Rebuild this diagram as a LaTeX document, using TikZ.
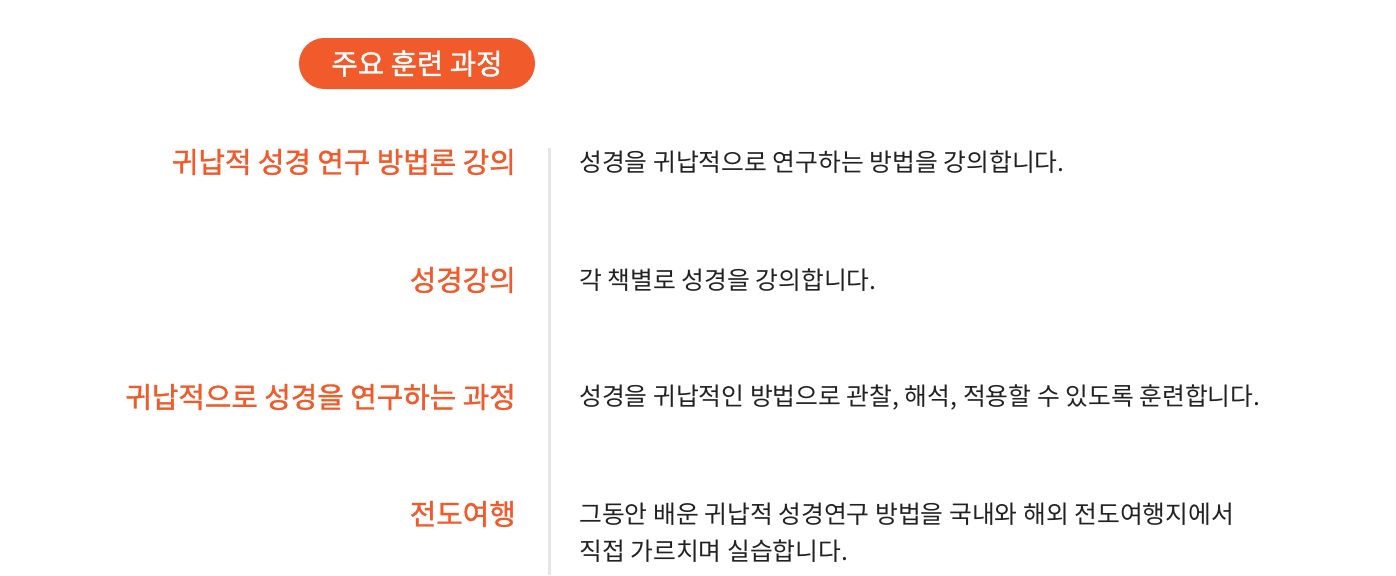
\documentclass[tikz,border=0pt]{standalone}
\usepackage{fontspec}
\setmainfont{Noto Sans CJK KR}
\newfontfamily\titlefont[FakeBold=1.2]{Noto Sans CJK KR}
\usepackage{xcolor}
\usetikzlibrary{positioning}
\definecolor{brand}{HTML}{F15A2B}
\definecolor{bodytext}{HTML}{222222}
\definecolor{rulegray}{HTML}{E6E6E6}

\begin{document}
\begin{tikzpicture}[x=0.75pt,y=-0.75pt,
  badge/.style={fill=brand, text=white, rounded corners=19pt, minimum width=177pt, minimum height=38.25pt, inner sep=0pt, font=\titlefont\fontsize{21.5}{24}\selectfont},
  title/.style={anchor=east, text=brand, inner sep=0pt, font=\titlefont\fontsize{21.6}{25}\selectfont},
  desc/.style={anchor=west, text=bodytext, inner sep=0pt, align=left, font=\fontsize{18.6}{27.75}\selectfont}]
\useasboundingbox (0,0) rectangle (1396,575);

% heading
\node[badge] (head) at (417,63.5) {주요 훈련 과정};

% divider
\coordinate (top) at (549,148);
\coordinate (bottom) at (549,575);
\draw[rulegray, line width=2.25pt] (top) -- (bottom);

% rows
\node[title] (t1) at (516,162) {귀납적 성경 연구 방법론 강의};
\node[desc] (d1) at (579,162) {성경을 귀납적으로 연구하는 방법을 강의합니다.};

\node[title] (t2) at (516,280) {성경강의};
\node[desc] (d2) at (579,280) {각 책별로 성경을 강의합니다.};

\node[title] (t3) at (516,397) {귀납적으로 성경을 연구하는 과정};
\node[desc] (d3) at (579,397) {성경을 귀납적인 방법으로 관찰, 해석, 적용할 수 있도록 훈련합니다.};

\node[title] (t4) at (516,514) {전도여행};
\node[desc] (d4) at (579,532.5) {그동안 배운 귀납적 성경연구 방법을 국내와 해외 전도여행지에서\\직접 가르치며 실습합니다.};
\end{tikzpicture}
\end{document}
